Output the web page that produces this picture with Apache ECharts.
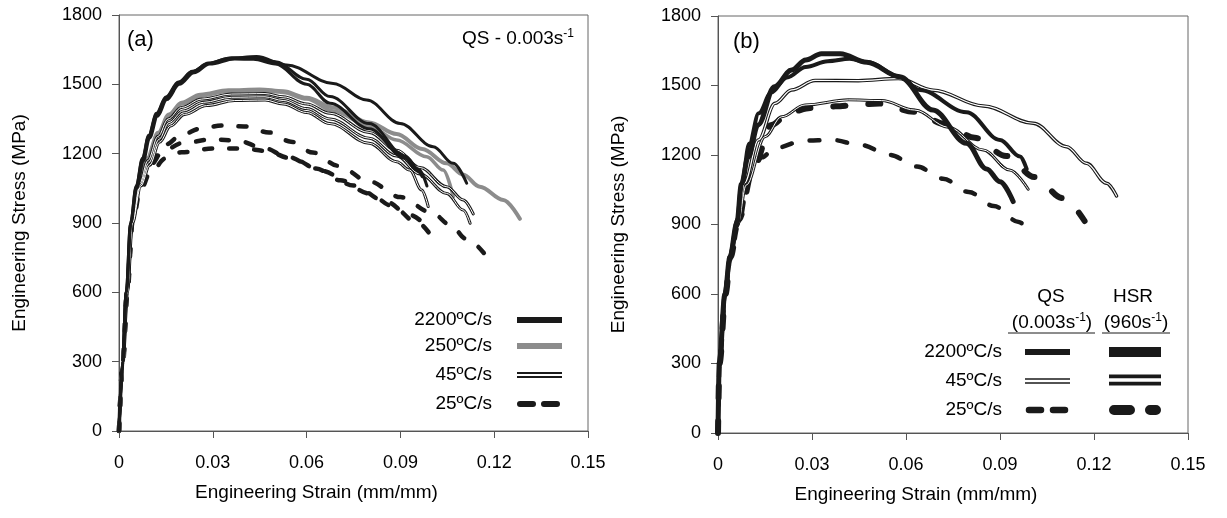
<!DOCTYPE html>
<html>
<head>
<meta charset="utf-8">
<script src="https://cdn.jsdelivr.net/npm/echarts@6/dist/echarts.min.js"></script>
<style>
html,body{margin:0;padding:0;background:#fff;}
#chart{width:1227px;height:518px;}
</style>
</head>
<body>
<div id="chart"></div>
<script>
// ---------- tick labels ----------
const xTickLabels = ['0', '0.03', '0.06', '0.09', '0.12', '0.15'];
const yTickLabels = ['0', '300', '600', '900', '1200', '1500', '1800'];
const xAxisTitle = 'Engineering Strain (mm/mm)';
const yAxisTitle = 'Engineering Stress (MPa)';

// ---------- panel (a): QS 0.003 s^-1 ----------  [strain, stress]
const a2200_1 = [[0,0],[0.0011,300],[0.0023,600],[0.0037,900],[0.0055,1060],[0.0075,1180],[0.0095,1280],[0.012,1375],[0.015,1445],[0.019,1510],[0.0235,1557],[0.0286,1590],[0.035,1612],[0.044,1620],[0.0536,1584],[0.0685,1504],[0.0792,1432],[0.0899,1331],[0.1005,1230],[0.1069,1158],[0.1112,1072]];
const a2200_2 = [[0,0],[0.0011,300],[0.0023,600],[0.0037,900],[0.0055,1055],[0.0075,1175],[0.0095,1275],[0.012,1370],[0.015,1440],[0.019,1507],[0.0235,1555],[0.0286,1592],[0.036,1615],[0.043,1615],[0.05,1598],[0.06,1522],[0.0675,1447],[0.08,1330],[0.0915,1190],[0.096,1130],[0.0985,1060]];
const a2200_3 = [[0,0],[0.0012,300],[0.0024,600],[0.0038,900],[0.0057,1050],[0.0078,1170],[0.0098,1268],[0.0123,1362],[0.0153,1434],[0.0193,1500],[0.024,1550],[0.029,1588],[0.037,1610],[0.043,1608],[0.05,1588],[0.06,1500],[0.0675,1418],[0.08,1308],[0.0915,1180],[0.095,1130],[0.097,1100]];
const a250_1 = [[0,0],[0.0012,300],[0.0025,600],[0.004,900],[0.0065,1080],[0.009,1180],[0.0125,1290],[0.016,1370],[0.02,1420],[0.026,1455],[0.035,1474],[0.045,1478],[0.0525,1470],[0.06,1442],[0.0685,1400],[0.08,1335],[0.0888,1285],[0.097,1220],[0.1048,1158],[0.11,1110],[0.1154,1057],[0.1229,1000],[0.1282,918]];
const a250_2 = [[0,0],[0.0012,300],[0.0025,600],[0.004,900],[0.0065,1075],[0.009,1175],[0.0125,1285],[0.016,1365],[0.02,1415],[0.026,1450],[0.035,1470],[0.045,1474],[0.0525,1465],[0.06,1436],[0.0685,1385],[0.08,1320],[0.0888,1259],[0.0984,1187],[0.1037,1129],[0.1069,1014]];
const a45_1 = [[0,0],[0.0012,300],[0.0025,600],[0.0041,900],[0.0066,1070],[0.0092,1170],[0.0125,1275],[0.0157,1350],[0.02,1400],[0.0264,1436],[0.036,1458],[0.0467,1460],[0.0525,1446],[0.06,1415],[0.0675,1375],[0.08,1292],[0.0888,1215],[0.0963,1140],[0.1048,1057],[0.1101,1000],[0.1133,939]];
const a45_2 = [[0,0],[0.0012,300],[0.0026,600],[0.0042,900],[0.0068,1065],[0.0095,1160],[0.0128,1262],[0.016,1335],[0.0205,1385],[0.027,1422],[0.036,1444],[0.0467,1446],[0.0525,1430],[0.06,1395],[0.0675,1350],[0.08,1267],[0.0888,1190],[0.0963,1112],[0.1048,1028],[0.1101,956],[0.1123,899]];
const a45_3 = [[0,0],[0.0013,300],[0.0027,600],[0.0043,900],[0.007,1060],[0.0098,1150],[0.013,1250],[0.0165,1320],[0.021,1370],[0.028,1408],[0.037,1430],[0.0467,1432],[0.0525,1415],[0.06,1378],[0.0675,1330],[0.08,1245],[0.0888,1165],[0.093,1129],[0.0968,1043],[0.0989,971]];
const a25_1 = [[0,0],[0.0012,300],[0.0026,600],[0.0042,900],[0.0065,1060],[0.01,1165],[0.015,1240],[0.02,1282],[0.026,1308],[0.033,1322],[0.04,1318],[0.048,1292],[0.055,1252],[0.062,1205],[0.07,1148],[0.08,1080],[0.09,1012],[0.1,945],[0.106,892],[0.111,832],[0.117,765]];
const a25_2 = [[0,0],[0.0012,300],[0.0026,600],[0.0042,900],[0.0065,1050],[0.01,1150],[0.014,1210],[0.02,1245],[0.03,1262],[0.038,1256],[0.046,1226],[0.054,1186],[0.063,1136],[0.0707,1085],[0.08,1028],[0.0872,975],[0.095,905],[0.1016,810]];
const a25_3 = [[0,0],[0.0013,300],[0.0027,600],[0.0043,900],[0.0068,1040],[0.01,1118],[0.015,1180],[0.02,1206],[0.03,1222],[0.04,1222],[0.047,1212],[0.055,1180],[0.065,1125],[0.075,1062],[0.085,995],[0.093,935],[0.0988,880]];

// ---------- panel (b): QS vs HSR ----------
const b2200_qs = [[0,0],[0.0004,300],[0.0022,600],[0.0038,760],[0.006,905],[0.0075,1075],[0.01,1250],[0.013,1380],[0.017,1470],[0.022,1535],[0.028,1580],[0.035,1605],[0.042,1615],[0.048,1600],[0.058,1538],[0.0644,1481],[0.0793,1385],[0.09,1265],[0.0964,1193],[0.0985,1140]];
const b2200_hsr = [[0,0],[0.0004,300],[0.0022,600],[0.0038,760],[0.006,905],[0.0075,1075],[0.0096,1190],[0.0128,1330],[0.018,1495],[0.0235,1567],[0.028,1610],[0.033,1637],[0.039,1637],[0.0475,1600],[0.058,1538],[0.0686,1394],[0.0793,1251],[0.0857,1140],[0.09,1085],[0.0942,999]];
const b45_hsr = [[0,0],[0.0005,300],[0.0024,600],[0.004,760],[0.0062,900],[0.0085,1080],[0.0129,1265],[0.0182,1423],[0.0235,1481],[0.031,1522],[0.0448,1521],[0.0575,1530],[0.0687,1480],[0.0846,1412],[0.1006,1337],[0.1112,1236],[0.1176,1164],[0.124,1078],[0.1272,1023]];
const b45_qs = [[0,0],[0.0005,300],[0.0024,600],[0.004,760],[0.0063,900],[0.009,1070],[0.015,1279],[0.0203,1365],[0.0278,1416],[0.0416,1438],[0.0522,1435],[0.0628,1394],[0.0735,1320],[0.0846,1222],[0.0931,1135],[0.099,1052]];
const b25_qs = [[0,0],[0.0005,300],[0.0024,600],[0.004,760],[0.0065,900],[0.01,1110],[0.014,1190],[0.018,1229],[0.0275,1262],[0.0364,1265],[0.0456,1243],[0.0549,1200],[0.0635,1150],[0.0718,1098],[0.08,1040],[0.088,980],[0.096,911],[0.098,893]];
const b25_hsr = [[0,0],[0.0005,300],[0.0024,600],[0.004,760],[0.0065,920],[0.0115,1152],[0.017,1330],[0.023,1385],[0.0295,1403],[0.0375,1410],[0.045,1418],[0.0515,1422],[0.0625,1387],[0.0725,1334],[0.082,1274],[0.092,1196],[0.101,1105],[0.11,1014],[0.117,915]];

// ---------- text ----------
const legendA = ['2200ºC/s', '250ºC/s', '45ºC/s', '25ºC/s'];
const legendB = ['2200ºC/s', '45ºC/s', '25ºC/s'];
const FONT = '"Liberation Sans", Arial, Helvetica, sans-serif';
const BLACK = '#1a1a1a';
const GRAY = '#8c8c8c';

function ln(data, ax, width, color, dash, z) {
  return {
    type: 'line', data: data, xAxisIndex: ax, yAxisIndex: ax,
    symbol: 'none', showSymbol: false, smooth: 0.35, smoothMonotone: 'x',
    silent: true, animation: false, z: z,
    lineStyle: { width: width, color: color, type: dash || 'solid', cap: 'round', join: 'round' }
  };
}
function dbl(data, ax, outer, inner, z) {
  return [ln(data, ax, outer, BLACK, null, z), ln(data, ax, inner, '#ffffff', null, z + 0.5)];
}

const series = [
  // panel a
  ln(a25_1, 0, 4.5, BLACK, [8, 17], 2),
  ln(a25_2, 0, 4.5, BLACK, [8, 17], 2),
  ln(a25_3, 0, 4.5, BLACK, [8, 17], 2),
  ln(a250_1, 0, 4, GRAY, null, 3),
  ln(a250_2, 0, 3.5, GRAY, null, 3),
  ...dbl(a45_1, 0, 3, 1, 4),
  ...dbl(a45_2, 0, 3, 1, 4),
  ...dbl(a45_3, 0, 3, 1, 4),
  ln(a2200_1, 0, 3, BLACK, null, 6),
  ln(a2200_2, 0, 3, BLACK, null, 6),
  ln(a2200_3, 0, 3, BLACK, null, 6),
  // panel b
  ln(b25_qs, 1, 4.5, BLACK, [10, 18], 2),
  ln(b25_hsr, 1, 6, BLACK, [12, 23], 2),
  ...dbl(b45_qs, 1, 3, 1, 4),
  ...dbl(b45_hsr, 1, 3.5, 1.2, 4),
  ln(b2200_qs, 1, 4, BLACK, null, 6),
  ln(b2200_hsr, 1, 5, BLACK, null, 6)
];

function xAxisCfg(gi) {
  return {
    gridIndex: gi, type: 'value', min: 0, max: 0.15, interval: 0.03,
    axisLine: { show: true, onZero: false, lineStyle: { color: '#555', width: 1 } },
    axisTick: { show: true, inside: false, length: 7, lineStyle: { color: '#555' } },
    splitLine: { show: false },
    axisLabel: { color: '#000', fontSize: 18, fontFamily: FONT, margin: 23,
      formatter: (v) => xTickLabels[Math.round(v / 0.03)] },
    name: xAxisTitle, nameLocation: 'middle', nameGap: 52,
    nameTextStyle: { color: '#000', fontSize: 19, fontFamily: FONT, padding: [0, 74, 0, 0] }
  };
}
function yAxisCfg(gi) {
  return {
    gridIndex: gi, type: 'value', min: 0, max: 1800, interval: 300,
    axisLine: { show: true, onZero: false, lineStyle: { color: '#555', width: 1 } },
    axisTick: { show: true, inside: false, length: 7, lineStyle: { color: '#555' } },
    splitLine: { show: false },
    axisLabel: { color: '#000', fontSize: 18, fontFamily: FONT, margin: 17,
      formatter: (v) => yTickLabels[Math.round(v / 300)] },
    name: yAxisTitle, nameLocation: 'middle', nameGap: 90,
    nameTextStyle: { color: '#000', fontSize: 19, fontFamily: FONT }
  };
}

function txt(x, y, text, align, size, extra) {
  return Object.assign({
    type: 'text', x: x, y: y, silent: true, z: 100,
    style: { text: text, fill: '#000', font: (size || 19) + 'px ' + FONT,
      align: align || 'left', verticalAlign: 'middle', textAlign: align || 'left', textVerticalAlign: 'middle' }
  }, extra || {});
}
function richTxt(x, y, text, align) {
  return {
    type: 'text', x: x, y: y, silent: true, z: 100,
    style: { text: text, fill: '#000', align: align, verticalAlign: 'middle', textAlign: align, textVerticalAlign: 'middle',
      rich: {
        n: { fontSize: 19, fontFamily: FONT, lineHeight: 22, fill: '#000' },
        s: { fontSize: 12, fontFamily: FONT, lineHeight: 13, verticalAlign: 'top', fill: '#000' }
      } }
  };
}
function seg(x1, y, x2, w, color, dash, cap) {
  return { type: 'line', silent: true, z: 100,
    shape: { x1: x1, y1: y, x2: x2, y2: y },
    style: { stroke: color, lineWidth: w, lineDash: dash || null, lineCap: cap || 'butt' } };
}

const graphics = [
  txt(127, 40, '(a)', 'left', 22),
  richTxt(574, 39, '{n|QS - 0.003s}{s|-1}', 'right'),
  txt(733, 42, '(b)', 'left', 22),
  // legend a
  txt(492, 320, legendA[0], 'right'),
  txt(492, 346, legendA[1], 'right'),
  txt(492, 375, legendA[2], 'right'),
  txt(492, 404, legendA[3], 'right'),
  seg(517, 320, 562, 6, BLACK),
  seg(517, 346, 562, 6, GRAY),
  seg(517, 375, 562, 6, BLACK),
  seg(517, 375, 562, 2, '#fff'),
  seg(520, 404, 559, 6, BLACK, [13, 11], 'round'),
  // legend b
  txt(1051, 297, 'QS', 'center'),
  txt(1133, 297, 'HSR', 'center'),
  richTxt(1052, 323, '{n|(0.003s}{s|-1}{n|)}', 'center'),
  richTxt(1136, 323, '{n|(960s}{s|-1}{n|)}', 'center'),
  seg(1008, 333, 1095, 1, BLACK),
  seg(1102, 333, 1170, 1, BLACK),
  txt(1002, 352, legendB[0], 'right'),
  txt(1002, 381, legendB[1], 'right'),
  txt(1002, 410, legendB[2], 'right'),
  seg(1025, 352, 1070, 6, BLACK),
  seg(1109, 352, 1161, 10, BLACK),
  seg(1025, 381, 1070, 5.5, BLACK),
  seg(1025, 381, 1070, 2.5, '#fff'),
  seg(1109, 380, 1161, 11, BLACK),
  seg(1109, 380, 1161, 3.5, '#fff'),
  seg(1029, 410, 1066, 6.5, BLACK, [12, 12], 'round'),
  seg(1114, 410, 1156, 10, BLACK, [16, 20], 'round')
];

const chart = echarts.init(document.getElementById('chart'), null, { renderer: 'canvas' });
chart.setOption({
  backgroundColor: '#ffffff',
  animation: false,
  textStyle: { fontFamily: FONT },
  grid: [
    { left: 119, top: 15, width: 469, height: 416, show: true, borderColor: '#666', borderWidth: 1, backgroundColor: 'transparent' },
    { left: 718, top: 16, width: 470, height: 417, show: true, borderColor: '#666', borderWidth: 1, backgroundColor: 'transparent' }
  ],
  xAxis: [xAxisCfg(0), xAxisCfg(1)],
  yAxis: [yAxisCfg(0), yAxisCfg(1)],
  series: series,
  graphic: graphics
});
</script>
</body>
</html>
